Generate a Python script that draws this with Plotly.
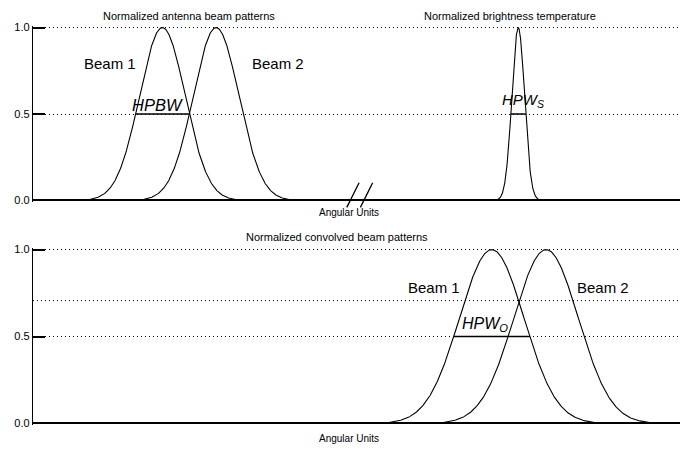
import numpy as np
import plotly.graph_objects as go

# ---- data (angular units on a 0..100 axis, normalized amplitudes) ----
beam_names = ["Beam 1", "Beam 2"]
antenna_centers = [20.0, 28.3]        # antenna beam peaks
antenna_fwhm = 8.3                    # HPBW
source_center = 75.0                  # brightness temperature peak
source_fwhm = 2.3                     # HPW_S
convolved_centers = [70.9, 79.3]      # convolved beam peaks
convolved_fwhm = 11.75                # HPW_O
top_levels = [0.5, 1.0]
bottom_levels = [0.5, 0.707, 1.0]
ytick_vals = [0.0, 0.5, 1.0]
ytick_text = ["0.0", "0.5", "1.0"]
axis_break = [48.5, 50.6]             # positions of the "//" break marks
x_range = [0, 100]

W, H = 691, 455
FONT = "Liberation Sans, Arial, sans-serif"
DOT = "1px,3px"


def gauss(center, fwhm):
    x = np.linspace(center - 1.7 * fwhm, center + 1.7 * fwhm, 401)
    y = np.exp(-4 * np.log(2) * (x - center) ** 2 / fwhm ** 2)
    return x, y


def ydomain(top_px, bottom_px, pad):
    # pixel span of the 0..1 range, widened by `pad` (in data units) on each side
    span = bottom_px - top_px
    extra = pad * span
    return [1 - (bottom_px + extra) / H, 1 - (top_px - extra) / H]


PAD = 0.01
x_dom = [33 / W, 680 / W]

fig = go.Figure()

line = dict(color="black", width=1.1)
bar = dict(color="black", width=1.5)

# top panel: antenna beams + narrow source
for c in antenna_centers:
    x, y = gauss(c, antenna_fwhm)
    fig.add_trace(go.Scatter(x=x, y=y, mode="lines", line=line, xaxis="x", yaxis="y"))
x, y = gauss(source_center, source_fwhm)
fig.add_trace(go.Scatter(x=x, y=y, mode="lines", line=line, xaxis="x", yaxis="y"))

# half-power width bars
c0 = antenna_centers[0]
fig.add_trace(go.Scatter(x=[c0 - antenna_fwhm / 2, c0 + antenna_fwhm / 2], y=[0.5, 0.5],
                         mode="lines", line=bar, xaxis="x", yaxis="y"))
fig.add_trace(go.Scatter(x=[source_center - source_fwhm / 2, source_center + source_fwhm / 2], y=[0.5, 0.5],
                         mode="lines", line=bar, xaxis="x", yaxis="y"))

# bottom panel: convolved beams
for c in convolved_centers:
    x, y = gauss(c, convolved_fwhm)
    fig.add_trace(go.Scatter(x=x, y=y, mode="lines", line=line, xaxis="x2", yaxis="y2"))
c0 = convolved_centers[0]
fig.add_trace(go.Scatter(x=[c0 - convolved_fwhm / 2, c0 + convolved_fwhm / 2], y=[0.5, 0.5],
                         mode="lines", line=bar, xaxis="x2", yaxis="y2"))

xax = dict(range=x_range, domain=x_dom, showline=False, showgrid=False, zeroline=False,
           showticklabels=False, ticks="", fixedrange=True)
yax = dict(range=[-PAD, 1 + PAD], tickmode="array", tickvals=ytick_vals, ticktext=ytick_text,
           ticks="inside", ticklen=12, tickwidth=1.5, tickcolor="black",
           showline=True, linewidth=1.3, linecolor="black",
           showgrid=True, gridcolor="black", gridwidth=1, griddash=DOT,
           zeroline=True, zerolinecolor="black", zerolinewidth=2,
           tickfont=dict(family=FONT, size=11, color="black"), fixedrange=True)

fig.update_layout(
    width=W, height=H,
    margin=dict(l=0, r=0, t=0, b=0),
    paper_bgcolor="white", plot_bgcolor="white",
    showlegend=False,
    xaxis=dict(xax, anchor="y"),
    yaxis=dict(yax, domain=ydomain(24, 200, PAD), anchor="x"),
    xaxis2=dict(xax, anchor="y2"),
    yaxis2=dict(yax, domain=ydomain(250, 427, PAD), anchor="x2"),
)

# extra dotted level (0.707) in the bottom panel, not a tick
shapes = []
for lv in bottom_levels:
    if lv not in ytick_vals:
        shapes.append(dict(type="line", xref="x2 domain", yref="y2", x0=0, x1=1, y0=lv, y1=lv,
                           line=dict(color="black", width=1, dash=DOT), layer="below"))

# axis-break marks on the top axis
for bx in axis_break:
    shapes.append(dict(type="line", xref="x", yref="paper",
                       x0=bx, x1=bx + 1.9, y0=1 - 207 / H, y1=1 - 182 / H,
                       line=dict(color="black", width=1.3)))
fig.update_layout(shapes=shapes)


def ann(text, x, y, size, xref="paper", yref="paper", italic=False):
    if italic:
        text = "<i>" + text + "</i>"
    return dict(text=text, x=x, y=y, xref=xref, yref=yref, showarrow=False,
                xanchor="center", yanchor="middle",
                font=dict(family=FONT, size=size, color="black"))


annotations = [
    ann("Normalized antenna beam patterns", 189 / W, 1 - 12 / H, 11),
    ann("Normalized brightness temperature", 510 / W, 1 - 12 / H, 11),
    ann("Angular Units", 348.5 / W, 1 - 212 / H, 10),
    ann("Normalized convolved beam patterns", 337 / W, 1 - 237 / H, 11),
    ann("Angular Units", 349 / W, 1 - 442 / H, 10),
    ann(beam_names[0], 11.9, 0.79, 15, "x", "y"),
    ann(beam_names[1], 37.8, 0.79, 15, "x", "y"),
    ann("HPBW", 19.3, 0.55, 16.5, "x", "y", italic=True),
    ann("HPW<sub>S</sub>", 75.8, 0.58, 15, "x", "y", italic=True),
    ann(beam_names[0], 62.0, 0.78, 15, "x2", "y2"),
    ann(beam_names[1], 88.1, 0.78, 15, "x2", "y2"),
    ann("HPW<sub>O</sub>", 69.8, 0.57, 16, "x2", "y2", italic=True),
]
fig.update_layout(annotations=annotations)

fig.write_html("out.html")
